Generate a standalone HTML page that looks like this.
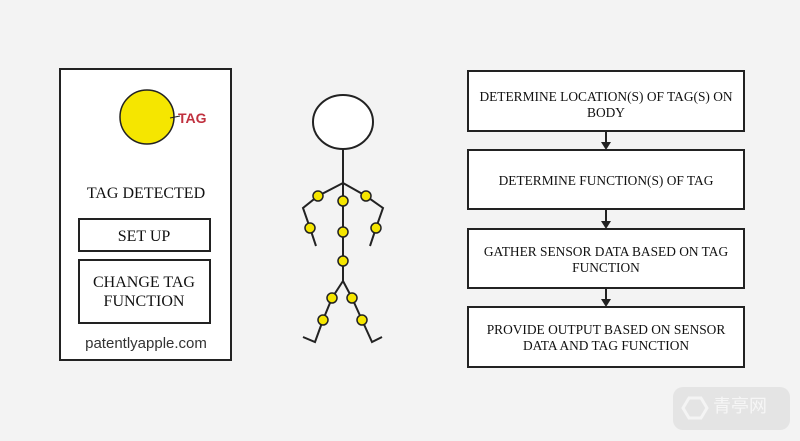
<!DOCTYPE html>
<html><head><style>body{margin:0;background:#f3f3f3;}svg{display:block}</style></head><body>
<svg width="800" height="441" xmlns="http://www.w3.org/2000/svg">
<rect width="800" height="441" fill="#f3f3f3"/>
<g stroke="#222" fill="#fff" stroke-width="2">
<rect x="60" y="69" width="171" height="291"/>
<rect x="79" y="219" width="131" height="32"/>
<rect x="79" y="260" width="131" height="63"/>
<rect x="468" y="71" width="276" height="60"/>
<rect x="468" y="150" width="276" height="59"/>
<rect x="468" y="229" width="276" height="59"/>
<rect x="468" y="307" width="276" height="60"/>
</g>
<circle cx="147" cy="117" r="27" fill="#f5e600" stroke="#222" stroke-width="1.5"/>
<line x1="170" y1="118" x2="180" y2="116" stroke="#222" stroke-width="1"/>
<text x="178" y="123" font-family="Liberation Sans,sans-serif" font-weight="bold" font-size="14" fill="#c0313f">TAG</text>
<g font-family="Liberation Serif,serif" fill="#111" text-anchor="middle">
<text x="146" y="198" font-size="16">TAG DETECTED</text>
<text x="144" y="241" font-size="16">SET UP</text>
<text x="144" y="287" font-size="16">CHANGE TAG</text>
<text x="144" y="306" font-size="16">FUNCTION</text>
<g font-size="13.4">
<text x="606" y="101">DETERMINE LOCATION(S) OF TAG(S) ON</text>
<text x="606" y="117">BODY</text>
<text x="606" y="185">DETERMINE  FUNCTION(S) OF TAG</text>
<text x="606" y="256">GATHER SENSOR DATA BASED ON TAG</text>
<text x="606" y="272">FUNCTION</text>
<text x="606" y="334">PROVIDE OUTPUT BASED ON  SENSOR</text>
<text x="606" y="350">DATA AND TAG FUNCTION</text>
</g></g>
<text x="146" y="348" font-family="Liberation Sans,sans-serif" font-size="15" fill="#333" text-anchor="middle">patentlyapple.com</text>
<g stroke="#222" stroke-width="2" fill="#222">
<line x1="606" y1="131" x2="606" y2="144"/><polygon points="601,142 611,142 606,150" stroke="none"/>
<line x1="606" y1="209" x2="606" y2="223"/><polygon points="601,221 611,221 606,229" stroke="none"/>
<line x1="606" y1="288" x2="606" y2="301"/><polygon points="601,299 611,299 606,307" stroke="none"/>
</g>
<g stroke="#222" stroke-width="2" fill="none">
<ellipse cx="343" cy="122" rx="30" ry="27" fill="#fff"/>
<line x1="343" y1="149" x2="343" y2="281"/>
<polyline points="343,183 318,196 303,208 310,228 316,246"/>
<polyline points="343,183 366,196 383,208 376,228 370,246"/>
<polyline points="343,281 332,298 323,320 315,342 303,337"/>
<polyline points="343,281 352,298 362,320 372,342 382,337"/>
</g>
<g fill="#f5e600" stroke="#222" stroke-width="1.5">
<circle cx="318" cy="196" r="5"/><circle cx="343" cy="201" r="5"/><circle cx="366" cy="196" r="5"/>
<circle cx="310" cy="228" r="5"/><circle cx="376" cy="228" r="5"/>
<circle cx="343" cy="232" r="5"/><circle cx="343" cy="261" r="5"/>
<circle cx="332" cy="298" r="5"/><circle cx="352" cy="298" r="5"/>
<circle cx="323" cy="320" r="5"/><circle cx="362" cy="320" r="5"/>
</g>
<rect x="673" y="387" width="117" height="43" rx="10" fill="#e4e4e4"/>
<polygon points="683,408 689,398 701,398 707,408 701,418 689,418" fill="none" stroke="#f4f4f4" stroke-width="3"/>
<text x="740" y="412" font-family="WenQuanYi Zen Hei,sans-serif" font-size="18" fill="#f6f6f6" text-anchor="middle">青亭网</text>
</svg>
</body></html>
